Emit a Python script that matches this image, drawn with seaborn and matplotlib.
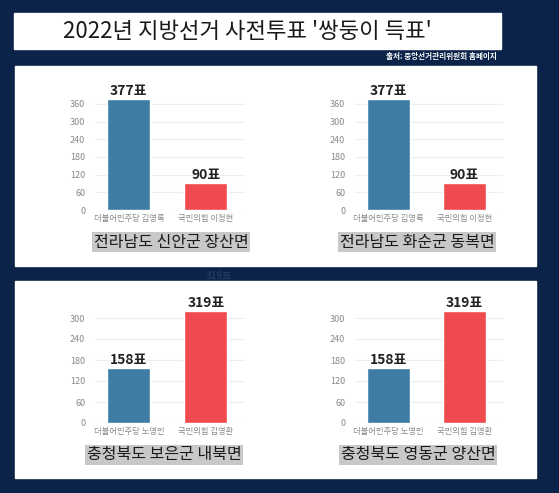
import matplotlib
matplotlib.use("Agg")
import matplotlib.pyplot as plt
from matplotlib.patches import Rectangle
import pandas as pd
import seaborn as sb

# data
jeonnam_candidates = ["더불어민주당 김영록", "국민의힘 이정현"]
jeonnam_votes = [377, 90]
chungbuk_candidates = ["더불어민주당 노영민", "국민의힘 김영환"]
chungbuk_votes = [158, 319]
regions = ["전라남도 신안군 장산면", "전라남도 화순군 동복면",
           "충청북도 보은군 내북면", "충청북도 영동군 양산면"]
top_ticks = [0, 60, 120, 180, 240, 300, 360]
bottom_ticks = [0, 60, 120, 180, 240, 300]

title = "2022년 지방선거 사전투표 '쌍둥이 득표'"
source = "출처: 중앙선거관리위원회 홈페이지"

sb.set_theme(style="white")
plt.rcParams["font.family"] = ["Noto Sans CJK KR", "DejaVu Sans"]

NAVY = "#0b2249"
BAR_COLORS = ["#3e7ca3", "#ef4a4e"]
W, H = 559, 493

fig = plt.figure(figsize=(W / 100, H / 100), dpi=100)
fig.patch.set_facecolor(NAVY)

# background layer in pixel coords
bg = fig.add_axes([0, 0, 1, 1])
bg.set_xlim(0, W)
bg.set_ylim(H, 0)
bg.axis("off")
bg.add_patch(Rectangle((14, 13), 487, 36, color="white"))
bg.add_patch(Rectangle((15, 66), 521, 200, color="white"))
bg.add_patch(Rectangle((15, 281), 521, 197, color="white"))
bg.text(247, 31, title, ha="center", va="center", fontsize=16, color="#1a1a1a")
bg.text(497, 57, source, ha="right", va="center", fontsize=5.5,
        color="white", fontweight="bold")
bg.text(219, 276, "319표", ha="center", va="center", fontsize=7,
        color="#24395e", fontweight="bold")


def px_axes(x0, x1, y_zero, y_top):
    return fig.add_axes([x0 / W, 1 - y_zero / H, (x1 - x0) / W, (y_zero - y_top) / H])


def draw_panel(ax, names, votes, ymax, ticks, region, box_xy):
    df = pd.DataFrame({"name": names, "votes": votes})
    sb.barplot(data=df, x="name", y="votes", hue="name", palette=BAR_COLORS,
               width=0.56, legend=False, ax=ax, saturation=1)
    ax.set_xlim(-0.44, 1.51)
    ax.set_ylim(0, ymax)
    ax.set_yticks(ticks)
    ax.set_xlabel("")
    ax.set_ylabel("")
    ax.grid(axis="y", color="#eeeeee", linewidth=0.8)
    ax.set_axisbelow(True)
    for s in ax.spines.values():
        s.set_visible(False)
    ax.tick_params(axis="y", labelsize=6.5, labelcolor="#8a8a8a", pad=7, length=0)
    ax.tick_params(axis="x", labelsize=6, labelcolor="#8a8a8a", pad=3, length=0)
    ax.set_facecolor("none")
    for i, v in enumerate(votes):
        ax.text(i, v + ymax * 0.01, f"{v}표", ha="center", va="bottom",
                fontsize=10, fontweight="bold", color="#222222")
    bg.text(box_xy[0], box_xy[1], region, ha="center", va="center", fontsize=11.5,
            color="#1a1a1a",
            bbox=dict(facecolor="#c8c8c8", edgecolor="none", pad=1.2))


ax1 = px_axes(95, 245, 210, 96.6)
draw_panel(ax1, jeonnam_candidates, jeonnam_votes, 385, top_ticks, regions[0], (171, 242))
ax2 = px_axes(355, 503, 210, 96.6)
draw_panel(ax2, jeonnam_candidates, jeonnam_votes, 385, top_ticks, regions[1], (417, 242))
ax3 = px_axes(95, 245, 423, 307.5)
draw_panel(ax3, chungbuk_candidates, chungbuk_votes, 330, bottom_ticks, regions[2], (164, 455))
ax4 = px_axes(355, 503, 423, 307.5)
draw_panel(ax4, chungbuk_candidates, chungbuk_votes, 330, bottom_ticks, regions[3], (418, 455))

fig.savefig("out.png", dpi=100, facecolor=NAVY)
